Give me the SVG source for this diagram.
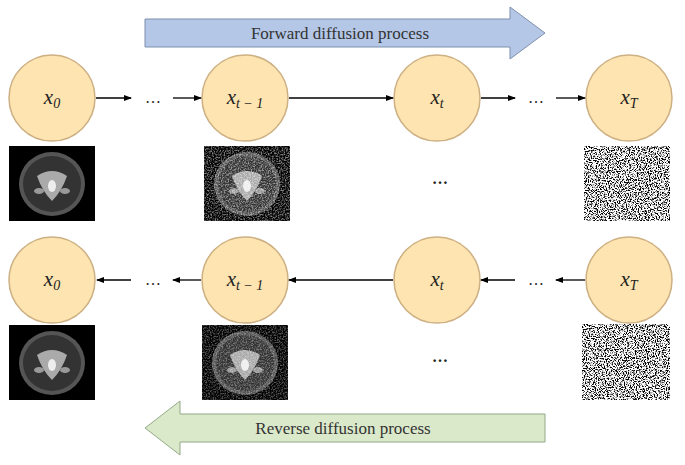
<svg xmlns="http://www.w3.org/2000/svg" width="685" height="465" viewBox="0 0 685 465">
<style>
.n{fill:#fde4b0;stroke:#cdb083;stroke-width:1.5}
.l{font-family:"Liberation Serif",serif;font-style:italic;font-size:21px;fill:#222;text-anchor:middle}
.s{font-size:14px}
.c{stroke:#000;stroke-width:1.3;fill:none}
.d{font-family:"Liberation Serif",serif;font-size:16px;fill:#222;text-anchor:middle}
.t{font-family:"Liberation Serif",serif;font-size:17px;fill:#333;text-anchor:middle}
</style>
<defs>
<marker id="a" markerWidth="8" markerHeight="8" refX="7" refY="4" orient="auto" markerUnits="userSpaceOnUse"><path d="M0,1 L8,4 L0,7 Z" fill="#000"/></marker>
<filter id="nz" x="0" y="0" width="100%" height="100%"><feTurbulence type="fractalNoise" baseFrequency="0.9" numOctaves="2" seed="3"/><feColorMatrix type="matrix" values="0 0 0 0 0 0 0 0 0 0 0 0 0 0 0 -6 0 0 0 3.2"/><feComposite in2="SourceGraphic" operator="in"/></filter>
<filter id="gn" x="0" y="0" width="100%" height="100%"><feTurbulence type="fractalNoise" baseFrequency="0.7" numOctaves="2" seed="5"/><feColorMatrix type="matrix" values="0 0 0 0 1 0 0 0 0 1 0 0 0 0 1 3 0 0 0 -1.2"/><feComposite in2="SourceGraphic" operator="in"/></filter>
<g id="brain"><rect x="0" y="0" width="86" height="75" fill="#000"/><ellipse cx="43" cy="38" rx="33" ry="32" fill="#555"/><ellipse cx="43" cy="38" rx="29" ry="28" fill="#333"/><path d="M28,30 q15,-10 30,0 q-5,15 -15,25 q-10,-10 -15,-25z" fill="#aaa"/><ellipse cx="43" cy="40" rx="4" ry="6" fill="#eee"/><ellipse cx="30" cy="45" rx="5" ry="3" fill="#999"/><ellipse cx="56" cy="45" rx="5" ry="3" fill="#999"/></g>
</defs>
<g id="fwd"><path d="M145,19 H510 V7 L545,33 L510,59 V47 H145 Z" fill="#b4c7e7" stroke="#7f8fae"/><text class="t" x="340" y="39">Forward diffusion process</text></g>
<g id="rev"><path d="M545,414 H180 V401 L145,428 L180,455 V442 H545 Z" fill="#dbe9cb" stroke="#94a887"/><text class="t" x="343" y="434">Reverse diffusion process</text></g>
<g id="f0"><circle class="n" cx="52" cy="98" r="43"/><text class="l" x="52" y="104">x<tspan class="s" dy="4">0</tspan></text></g>
<g id="f1"><circle class="n" cx="245" cy="98" r="43"/><text class="l" x="245" y="104">x<tspan class="s" dy="4">t − 1</tspan></text></g>
<g id="f2"><circle class="n" cx="437" cy="98" r="43"/><text class="l" x="437" y="104">x<tspan class="s" dy="4">t</tspan></text></g>
<g id="f3"><circle class="n" cx="629" cy="98" r="43"/><text class="l" x="629" y="104">x<tspan class="s" dy="4">T</tspan></text></g>
<g id="r0"><circle class="n" cx="52" cy="280" r="43"/><text class="l" x="52" y="286">x<tspan class="s" dy="4">0</tspan></text></g>
<g id="r1"><circle class="n" cx="245" cy="280" r="43"/><text class="l" x="245" y="286">x<tspan class="s" dy="4">t − 1</tspan></text></g>
<g id="r2"><circle class="n" cx="437" cy="280" r="43"/><text class="l" x="437" y="286">x<tspan class="s" dy="4">t</tspan></text></g>
<g id="r3"><circle class="n" cx="629" cy="280" r="43"/><text class="l" x="629" y="286">x<tspan class="s" dy="4">T</tspan></text></g>
<g id="connectors">
<line class="c" x1="96" y1="98" x2="131" y2="98" marker-end="url(#a)"/>
<line class="c" x1="173" y1="98" x2="201" y2="98" marker-end="url(#a)"/>
<line class="c" x1="289" y1="98" x2="393" y2="98" marker-end="url(#a)"/>
<line class="c" x1="481" y1="98" x2="515" y2="98" marker-end="url(#a)"/>
<line class="c" x1="556" y1="98" x2="585" y2="98" marker-end="url(#a)"/>
<line class="c" x1="131" y1="280" x2="97" y2="280" marker-end="url(#a)"/>
<line class="c" x1="201" y1="280" x2="173" y2="280" marker-end="url(#a)"/>
<line class="c" x1="393" y1="280" x2="289" y2="280" marker-end="url(#a)"/>
<line class="c" x1="515" y1="280" x2="481" y2="280" marker-end="url(#a)"/>
<line class="c" x1="585" y1="280" x2="556" y2="280" marker-end="url(#a)"/>
</g>
<g id="dots"><text class="d" x="153" y="103">…</text><text class="d" x="536" y="103">…</text><text class="d" x="153" y="285">…</text><text class="d" x="536" y="285">…</text><text class="d" x="440" y="184" font-weight="bold">…</text><text class="d" x="440" y="362" font-weight="bold">…</text></g>
<g id="images">
<use href="#brain" x="9" y="146"/>
<g transform="translate(204,146)"><use href="#brain"/><rect width="86" height="75" fill="#fff" filter="url(#gn)" opacity="0.5"/></g>
<g transform="translate(584,146)"><rect width="86" height="75" fill="#fff"/><rect width="86" height="75" fill="#000" filter="url(#nz)"/></g>
<use href="#brain" x="9" y="325"/>
<g transform="translate(202,325)"><use href="#brain"/><rect width="86" height="75" fill="#fff" filter="url(#gn)" opacity="0.35"/></g>
<g transform="translate(582,324)"><rect width="88" height="76" fill="#fff"/><rect width="88" height="76" fill="#000" filter="url(#nz)"/></g>
</g>
</svg>
